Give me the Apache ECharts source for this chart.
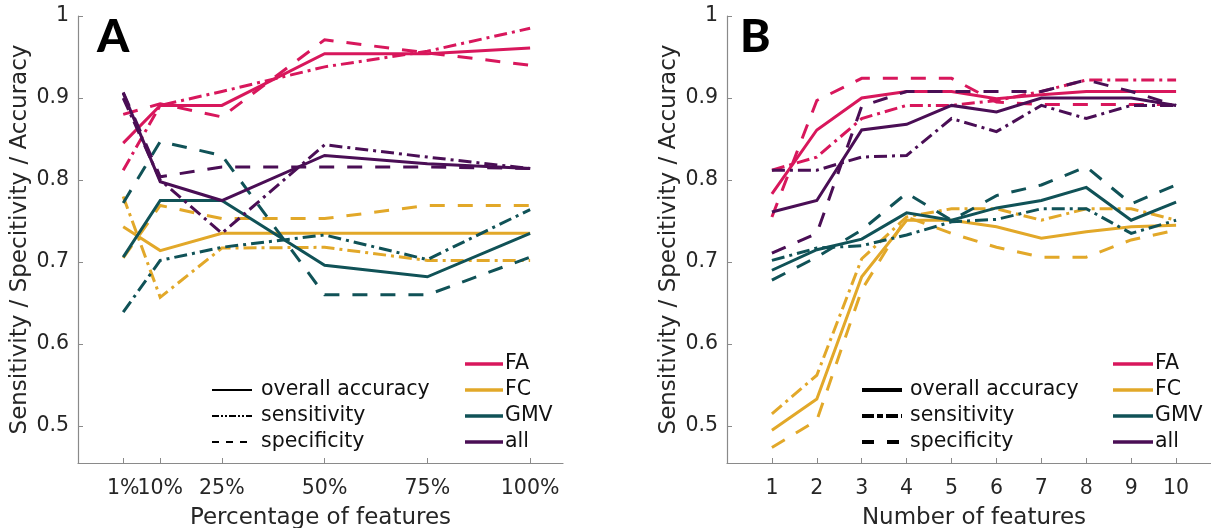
<!DOCTYPE html>
<html><head><meta charset="utf-8">
<script src="https://cdn.jsdelivr.net/npm/echarts@6/dist/echarts.min.js"></script>
<style>html,body{margin:0;padding:0;background:#fff}#c{width:1211px;height:528px}</style>
</head><body><div id="c"></div>
<script>
// ---------- data ----------
const xA = [1, 10, 25, 50, 75, 100];
const xB = [1, 2, 3, 4, 5, 6, 7, 8, 9, 10];
const xTickA = [1, 10, 25, 50, 75, 100];
const xTickB = [1, 2, 3, 4, 5, 6, 7, 8, 9, 10];
const yTicks = [0.5, 0.6, 0.7, 0.8, 0.9, 1];

const groups = ['FA', 'FC', 'GMV', 'all'];
const measures = ['overall accuracy', 'sensitivity', 'specificity'];

// Panel A (percentage of features)
const FA_acc_A  = [0.845, 0.891, 0.891, 0.954, 0.954, 0.961];
const FA_sens_A = [0.812, 0.891, 0.908, 0.938, 0.957, 0.985];
const FA_spec_A = [0.880, 0.893, 0.877, 0.971, 0.955, 0.940];
const FC_acc_A  = [0.743, 0.714, 0.735, 0.735, 0.735, 0.735];
const FC_sens_A = [0.780, 0.657, 0.717, 0.718, 0.702, 0.702];
const FC_spec_A = [0.705, 0.769, 0.753, 0.753, 0.769, 0.769];
const GMV_acc_A  = [0.706, 0.775, 0.775, 0.696, 0.682, 0.735];
const GMV_sens_A = [0.639, 0.702, 0.718, 0.733, 0.703, 0.764];
const GMV_spec_A = [0.772, 0.847, 0.830, 0.660, 0.660, 0.706];
const all_acc_A  = [0.906, 0.798, 0.775, 0.830, 0.820, 0.814];
const all_sens_A = [0.900, 0.800, 0.735, 0.843, 0.828, 0.814];
const all_spec_A = [0.907, 0.804, 0.816, 0.816, 0.816, 0.814];

// Panel B (number of features)
const FA_acc_B  = [0.783, 0.861, 0.900, 0.908, 0.908, 0.899, 0.904, 0.908, 0.908, 0.908];
const FA_sens_B = [0.812, 0.828, 0.875, 0.891, 0.891, 0.897, 0.908, 0.922, 0.922, 0.922];
const FA_spec_B = [0.755, 0.897, 0.924, 0.924, 0.924, 0.895, 0.892, 0.892, 0.892, 0.892];
const FC_acc_B  = [0.495, 0.533, 0.682, 0.751, 0.751, 0.743, 0.729, 0.737, 0.743, 0.745];
const FC_sens_B = [0.515, 0.562, 0.704, 0.755, 0.765, 0.765, 0.751, 0.765, 0.765, 0.751];
const FC_spec_B = [0.474, 0.507, 0.666, 0.755, 0.735, 0.718, 0.706, 0.706, 0.727, 0.739];
const GMV_acc_B  = [0.690, 0.715, 0.728, 0.760, 0.751, 0.766, 0.775, 0.791, 0.751, 0.773];
const GMV_sens_B = [0.702, 0.717, 0.720, 0.733, 0.749, 0.752, 0.765, 0.765, 0.735, 0.751];
const GMV_spec_B = [0.678, 0.706, 0.739, 0.784, 0.751, 0.781, 0.794, 0.816, 0.771, 0.794];
const all_acc_B  = [0.761, 0.775, 0.861, 0.868, 0.891, 0.883, 0.900, 0.900, 0.900, 0.891];
const all_sens_B = [0.812, 0.812, 0.828, 0.830, 0.875, 0.859, 0.891, 0.875, 0.891, 0.891];
const all_spec_B = [0.711, 0.735, 0.890, 0.908, 0.908, 0.908, 0.908, 0.922, 0.908, 0.891];

// ---------- styling ----------
const colors = { FA: '#D8175C', FC: '#E2A829', GMV: '#105257', all: '#4A0E55' };
const dashTypes = { 'overall accuracy': 'solid', 'sensitivity': [13, 5, 3, 5], 'specificity': [15, 13] };
const FONT = 'DejaVu Sans';
const TXT = '#262626';
const AX = '#8a8a8a';

const panelA = {
  FA: [FA_acc_A, FA_sens_A, FA_spec_A], FC: [FC_acc_A, FC_sens_A, FC_spec_A],
  GMV: [GMV_acc_A, GMV_sens_A, GMV_spec_A], all: [all_acc_A, all_sens_A, all_spec_A]
};
const panelB = {
  FA: [FA_acc_B, FA_sens_B, FA_spec_B], FC: [FC_acc_B, FC_sens_B, FC_spec_B],
  GMV: [GMV_acc_B, GMV_sens_B, GMV_spec_B], all: [all_acc_B, all_sens_B, all_spec_B]
};

const series = [];
function addPanel(panel, xs, idx) {
  groups.forEach(g => {
    measures.forEach((m, k) => {
      series.push({
        type: 'line', name: g + ' ' + m, xAxisIndex: idx, yAxisIndex: idx,
        data: xs.map((x, i) => [x, panel[g][k][i]]),
        symbol: 'none', silent: true, animation: false,
        lineStyle: { color: colors[g], width: 3, type: dashTypes[m], cap: 'butt', join: 'miter' },
        z: 2
      });
    });
  });
}
addPanel(panelA, xA, 0);
addPanel(panelB, xB, 1);

function yAxis(idx) {
  return {
    type: 'value', gridIndex: idx, min: 0.455, max: 1,
    name: 'Sensitivity / Specitivity / Accuracy', nameLocation: 'middle', nameGap: 46,
    nameTextStyle: { fontFamily: FONT, fontSize: 23, color: TXT },
    axisLine: { show: true, onZero: false, lineStyle: { color: AX, width: 1.2 } },
    axisTick: { show: true, inside: true, length: 5, customValues: yTicks, lineStyle: { color: AX } },
    axisLabel: { customValues: yTicks, margin: 9, fontFamily: FONT, fontSize: 20.5, color: TXT,
      hideOverlap: false, showMinLabel: true, showMaxLabel: true,
      formatter: v => (Math.abs(v - 1) < 1e-9 ? '1' : v.toFixed(1)) },
    splitLine: { show: false }
  };
}
function xAxis(idx, min, max, ticks, labelVals, fmt, name) {
  return {
    type: 'value', gridIndex: idx, min: min, max: max,
    name: name, nameLocation: 'middle', nameGap: 44,
    nameTextStyle: { fontFamily: FONT, fontSize: 23, color: TXT },
    axisLine: { show: true, onZero: false, lineStyle: { color: AX, width: 1.2 } },
    axisTick: { show: true, inside: true, length: 5, customValues: ticks, lineStyle: { color: AX } },
    axisLabel: { customValues: labelVals, margin: 15, fontFamily: FONT, fontSize: 20.5, color: TXT,
      hideOverlap: false, showMinLabel: true, showMaxLabel: true, formatter: fmt },
    splitLine: { show: false }
  };
}
// helper axis on grid A carrying only the first tick label (so touching labels are not auto-hidden)
function xLabelOnly(idx, min, max, labelVals, fmt) {
  return {
    type: 'value', gridIndex: idx, min: min, max: max, position: 'bottom',
    axisLine: { show: false, onZero: false }, axisTick: { show: false }, splitLine: { show: false },
    axisLabel: { customValues: labelVals, margin: 15, fontFamily: FONT, fontSize: 20.5, color: TXT,
      showMinLabel: true, showMaxLabel: true, formatter: fmt }
  };
}

// legend graphics
const graphic = [];
function legend(styleX0, styleX1, textX, colX0, colX1, colTextX, styleW) {
  const ys = [390, 416, 442];
  measures.forEach((m, k) => {
    graphic.push({ type: 'line', shape: { x1: styleX0, y1: ys[k], x2: styleX1, y2: ys[k] },
      style: { stroke: '#000', lineWidth: styleW, lineDash: m === 'overall accuracy' ? null :
        (m === 'sensitivity' ? (styleW > 3 ? [12, 3, 6, 3] : [7, 2, 2, 2, 2, 2]) : (styleW > 3 ? [12, 13] : [7, 7])) } });
    graphic.push({ type: 'text', x: textX, y: ys[k], style: { text: m, fontFamily: FONT, fontSize: 20.5, fill: '#111', verticalAlign: 'middle' } });
  });
  const cy = [364, 390, 416, 442];
  groups.forEach((g, k) => {
    graphic.push({ type: 'line', shape: { x1: colX0, y1: cy[k], x2: colX1, y2: cy[k] },
      style: { stroke: colors[g], lineWidth: 3.5 } });
    graphic.push({ type: 'text', x: colTextX, y: cy[k], style: { text: g, fontFamily: FONT, fontSize: 20.5, fill: '#111', verticalAlign: 'middle' } });
  });
}
legend(212, 252, 261, 465, 503, 505, 2);
legend(862, 902, 910, 1113, 1153, 1155, 4);
graphic.push({ type: 'text', x: 97, y: 37, style: { text: 'A', fontFamily: 'Lato', fontWeight: 900, fontSize: 46, fill: '#000', verticalAlign: 'middle' } });
graphic.push({ type: 'text', x: 740, y: 37, style: { text: 'B', fontFamily: 'Lato', fontWeight: 900, fontSize: 46, fill: '#000', verticalAlign: 'middle' } });

const pctFmt = v => v + '%';
const option = {
  backgroundColor: '#fff',
  animation: false,
  grid: [
    { left: 78, top: 16, width: 485, height: 447, containLabel: false, outerBoundsMode: 'none' },
    { left: 727, top: 16, width: 494, height: 447, containLabel: false, outerBoundsMode: 'none' }
  ],
  xAxis: [
    xAxis(0, -10, 108, xTickA, xTickA.slice(1), pctFmt, 'Percentage of features'),
    xAxis(1, 0, 11, xTickB, xTickB, v => String(v), 'Number of features'),
    xLabelOnly(0, -10, 108, xTickA.slice(0, 1), pctFmt)
  ],
  yAxis: [yAxis(0), yAxis(1)],
  series: series,
  graphic: graphic
};
const chart = echarts.init(document.getElementById('c'), null, { renderer: 'canvas' });
chart.setOption(option);
</script></body></html>
